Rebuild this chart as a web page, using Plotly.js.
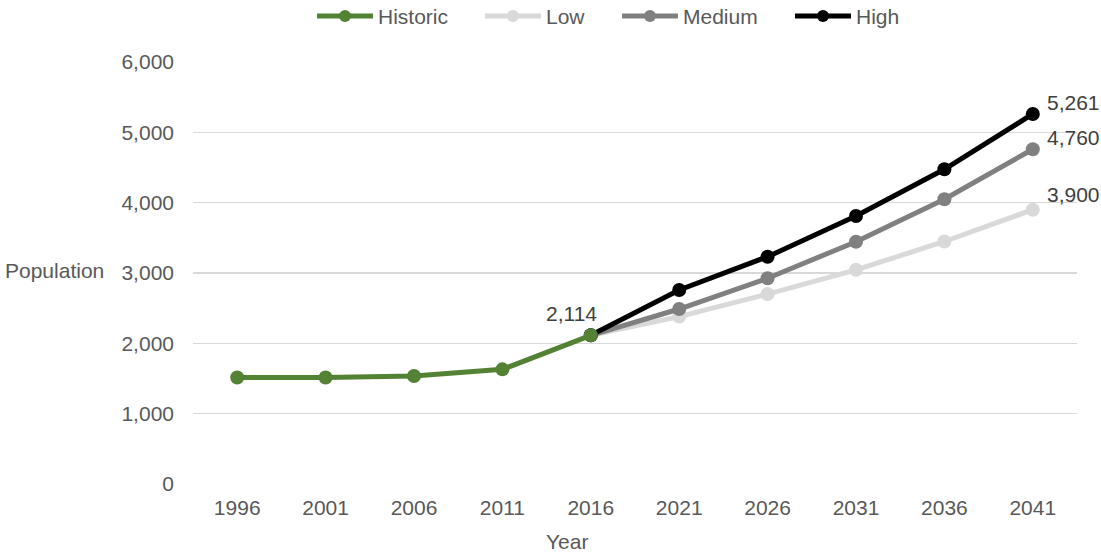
<!DOCTYPE html>
<html>
<head>
<meta charset="utf-8">
<script src="https://cdn.plot.ly/plotly-3.0.1.min.js"></script>
<style>html,body{margin:0;padding:0;background:#fff;}#chart{width:1101px;height:554px;}</style>
</head>
<body>
<div id="chart"></div>
<script>
const histYears = ['1996','2001','2006','2011','2016'];
const historic = [1515, 1515, 1536, 1630, 2114];
const projYears = ['2016','2021','2026','2031','2036','2041'];
const low = [2114, 2380, 2700, 3045, 3448, 3900];
const medium = [2114, 2488, 2925, 3445, 4048, 4760];
const high = [2114, 2758, 3232, 3810, 4475, 5261];
const allYears = ['1996','2001','2006','2011','2016','2021','2026','2031','2036','2041'];
const seriesNames = ['Historic', 'Low', 'Medium', 'High'];
const seriesColors = ['#548235', '#d9d9d9', '#808080', '#000000'];

const font = 'Liberation Sans, Arial, sans-serif';
const labelFont = {family: font, size: 21, color: '#404040'};
const tickFont = {family: font, size: 21, color: '#595959'};

function trace(name, xs, ys, color){
  return {
    type:'scatter', mode:'lines+markers', name:name, x:xs, y:ys,
    line:{color:color, width:5}, marker:{color:color, size:14},
    cliponaxis:false, showlegend:false
  };
}

const data = [
  trace(seriesNames[1], projYears, low, seriesColors[1]),
  trace(seriesNames[2], projYears, medium, seriesColors[2]),
  trace(seriesNames[3], projYears, high, seriesColors[3]),
  trace(seriesNames[0], histYears, historic, seriesColors[0])
];

const fmt = v => v.toLocaleString('en-US');
const catIndex = y => allYears.indexOf(y);
const annotations = [];
// end-of-series value labels
[[low, 15], [medium, 12], [high, 11]].forEach(([arr, dy]) => {
  const v = arr[arr.length-1];
  annotations.push({x: catIndex(projYears[projYears.length-1]), y: v, xref:'x', yref:'y', text: fmt(v),
    showarrow:false, xanchor:'left', yanchor:'middle', xshift:12, yshift:dy, font:labelFont});
});
const hv = historic[historic.length-1];
annotations.push({x: catIndex(histYears[histYears.length-1]), y: hv, xref:'x', yref:'y', text: fmt(hv),
  showarrow:false, xanchor:'center', yanchor:'middle', xshift:-19, yshift:22, font:labelFont});

// axis titles
annotations.push({text:'Population', xref:'paper', yref:'paper', x:(3-193)/884, y:(484-270)/422,
  xanchor:'left', yanchor:'middle', showarrow:false, font:tickFont});
annotations.push({text:'Year', xref:'paper', yref:'paper', x:(567-193)/884, y:-(541-484)/422,
  xanchor:'center', yanchor:'middle', showarrow:false, font:tickFont});

// custom legend (px positions converted to paper coords)
const legendLineStart = [317, 485, 622, 795];
const legendY = (484-16)/422;
const px = p => (p-193)/884;
const shapes = [];
seriesNames.forEach((n, i) => {
  const x0 = legendLineStart[i], x1 = x0 + 56;
  shapes.push({type:'line', xref:'paper', yref:'paper', x0:px(x0), x1:px(x1), y0:legendY, y1:legendY,
    line:{color:seriesColors[i], width:5}});
  shapes.push({type:'circle', xref:'paper', yref:'paper', xsizemode:'pixel', ysizemode:'pixel',
    xanchor:px((x0+x1)/2), yanchor:legendY, x0:-6, x1:6, y0:-6, y1:6,
    fillcolor:seriesColors[i], line:{width:0}});
  annotations.push({text:n, xref:'paper', yref:'paper', x:px(x1+3), y:legendY, xanchor:'left', yanchor:'middle',
    showarrow:false, font:tickFont});
});

const layout = {
  width:1101, height:554,
  margin:{l:193, r:24, t:62, b:70},
  paper_bgcolor:'#ffffff', plot_bgcolor:'#ffffff',
  font:{family:font, size:21, color:'#595959'},
  showlegend:false,
  xaxis:{type:'category', categoryorder:'array', categoryarray:allYears, range:[-0.5, 9.5],
         showgrid:false, zeroline:false, showline:false, ticks:'', ticklabelstandoff:9,
         tickfont:tickFont},
  yaxis:{range:[0,6000], tickvals:[0,1000,2000,3000,4000,5000,6000],
         ticktext:['0','1,000','2,000','3,000','4,000','5,000','6,000'],
         showgrid:true, gridcolor:'#d9d9d9', gridwidth:1.5, zeroline:false, showline:false,
         ticks:'', ticklabelstandoff:18, tickfont:tickFont},
  shapes: shapes,
  annotations: annotations
};

Plotly.newPlot('chart', data, layout, {displayModeBar:false, staticPlot:true});
</script>
</body>
</html>
